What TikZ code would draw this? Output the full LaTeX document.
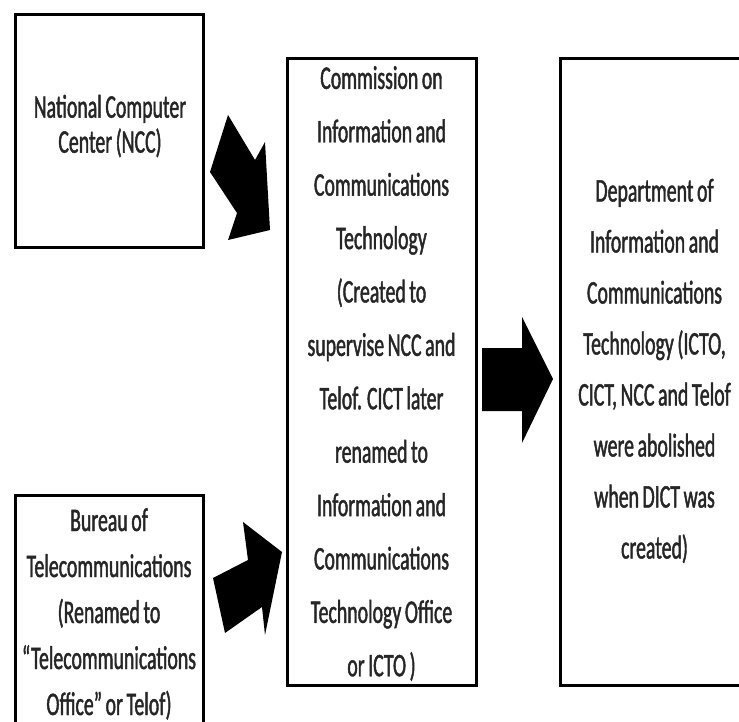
\documentclass[tikz,border=0pt]{standalone}
\usepackage{fontspec}
\setmainfont{Carlito}[FakeStretch=0.6, WordSpace=0.8, FakeBold=1.3]

\begin{document}
\begin{tikzpicture}[x=1pt, y=-1pt,
    box/.style={draw, line width=3pt, inner sep=0pt},
    txt/.style={align=center, text=black!85, font=\fontsize{33}{#1}\selectfont}]
    \clip (0,0) rectangle (739,722);

    % Draw boxes
    \node[box, minimum width=188, minimum height=233] (ncc) at (109,131.5) {};
    \node[box, minimum width=188, minimum height=260] (telof) at (109,625) {};
    \node[box, minimum width=189, minimum height=626] (cict) at (381.5,372) {};
    \node[box, minimum width=189, minimum height=626] (dict) at (654.5,372) {};

    % Texts of the boxes
    \node[txt=35] (ncctext) at (110,126) {National Computer\\Center (NCC)};
    \node[txt=46] (teloftext) at (109,614) {Bureau of\\Telecommunications\\(Renamed to\\“Telecommunications\\Office” or Telof)};
    \node[txt=53.4] (cicttext) at (381.5,373.5) {Commission on\\Information and\\Communications\\Technology\\(Created to\\supervise NCC and\\Telof. CICT later\\renamed to\\Information and\\Communications\\Technology Office\\or ICTO )};
    \node[txt=51] (dicttext) at (654.5,371) {Department of\\Information and\\Communications\\Technology (ICTO,\\CICT, NCC and Telof\\were abolished\\when DICT was\\created)};

    % Block arrows
    \fill (210,172) -- (228,115) -- (255,160) -- (265,142) -- (270,230) -- (228,240) -- (237,213) -- cycle;
    \fill (213,578) -- (248,560) -- (243,522) -- (282,552) -- (265,635) -- (262,607) -- (225,633) -- cycle;
    \fill (482,348) -- (522,348) -- (522,317) -- (553,379) -- (522,443) -- (522,411) -- (482,411) -- cycle;
\end{tikzpicture}
\end{document}
